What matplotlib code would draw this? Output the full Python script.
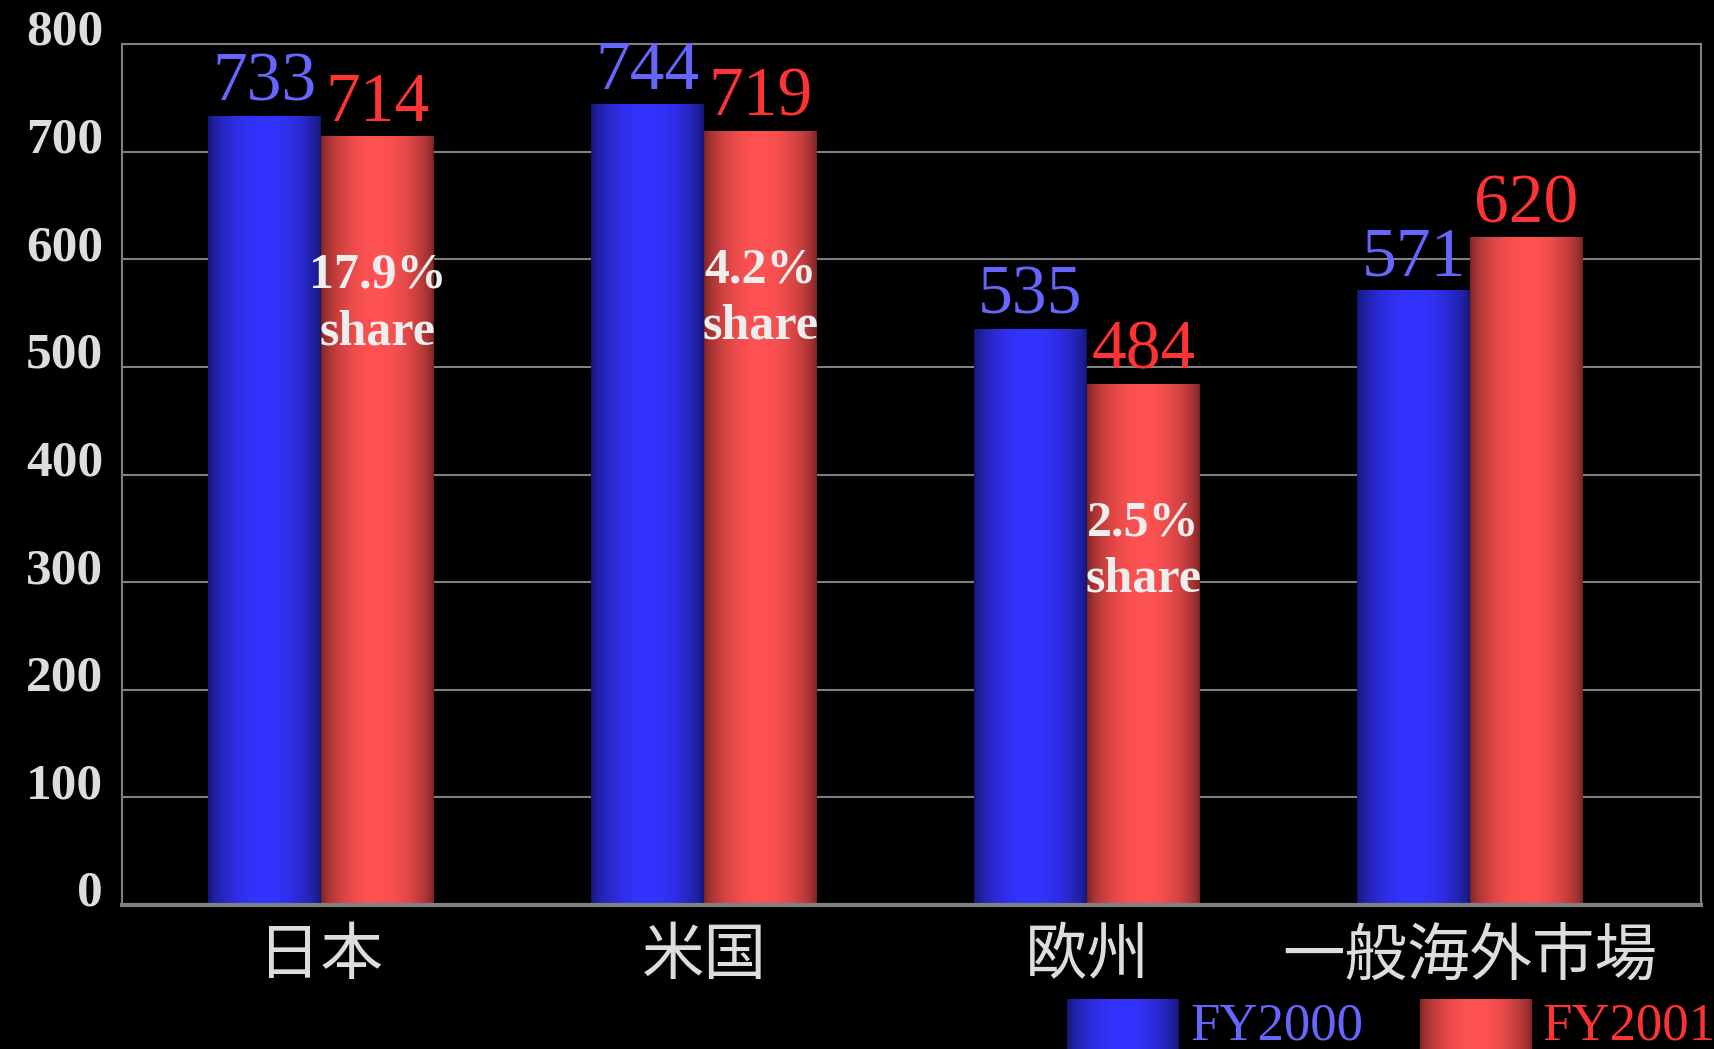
import numpy as np
import matplotlib
matplotlib.use("Agg")
import matplotlib.pyplot as plt

categories = ["日本", "米国", "欧州", "一般海外市場"]
fy2000 = [733, 744, 535, 571]
fy2001 = [714, 719, 484, 620]
share_labels = ["17.9%\nshare", "4.2%\nshare", "2.5%\nshare", ""]
series_names = ["FY2000", "FY2001"]
yticks = list(range(0, 900, 100))

BG = "black"
GRID = "#808080"
TXT = "#dddddd"
BLUE_TXT = "#6666ff"
RED_TXT = "#ff3333"
SERIF = "Liberation Serif"
CJK = ["Noto Sans CJK JP", "DejaVu Sans"]


def gradient(dark, bright):
    t = np.linspace(0, 1, 256)
    w = np.sin(np.pi * t) ** 0.6
    dark = np.array(dark)
    bright = np.array(bright)
    row = dark[None, :] * (1 - w[:, None]) + bright[None, :] * w[:, None]
    return row[None, :, :]


blue_grad = gradient((0.08, 0.08, 0.42), (0.2, 0.2, 1.0))
red_grad = gradient((0.45, 0.13, 0.13), (1.0, 0.32, 0.32))

fig = plt.figure(figsize=(17.15, 10.49), dpi=100, facecolor=BG)
ax = fig.add_axes([0.0714, 0.1373, 0.9204, 0.8207], facecolor=BG)

x = np.arange(len(categories))
w = 0.295
b1 = ax.bar(x - w / 2, fy2000, width=w, color="none", zorder=3)
b2 = ax.bar(x + w / 2, fy2001, width=w, color="none", zorder=3)

for bars, grad in ((b1, blue_grad), (b2, red_grad)):
    for p in bars:
        x0, y0 = p.get_x(), p.get_y()
        ax.imshow(grad, extent=(x0, x0 + p.get_width(), y0, y0 + p.get_height()),
                  aspect="auto", zorder=3, interpolation="bilinear")

# value labels
for bars, vals, col in ((b1, fy2000, BLUE_TXT), (b2, fy2001, RED_TXT)):
    for p, v in zip(bars, vals):
        ax.annotate(str(v), (p.get_x() + p.get_width() / 2, v), xytext=(0, 11),
                    textcoords="offset points", ha="center", va="baseline",
                    fontsize=50, color=col, family=SERIF, zorder=5)

# share notes inside the red bars
for p, v, s in zip(b2, fy2001, share_labels):
    if s:
        ax.text(p.get_x() + p.get_width() / 2, v - 108, s, ha="center", va="top",
                fontsize=36, fontweight="bold", color="#eeeeee", family=SERIF,
                linespacing=1.3, zorder=5)

ax.set_xlim(-0.518, 3.603)
ax.set_ylim(0, 800)
ax.set_yticks(yticks)
ax.set_yticklabels([])
# y labels sit a little above their grid lines
for t in yticks:
    ax.annotate(str(t), (0, t), xycoords=ax.get_yaxis_transform(), xytext=(-14, 8),
                textcoords="offset points", ha="right", va="center",
                fontsize=37, fontweight="bold", color=TXT, family=SERIF)
ax.set_xticks(x)
ax.set_xticklabels(categories, fontsize=45, color=TXT, family=CJK)
ax.tick_params(axis="both", length=0)
ax.tick_params(axis="x", pad=14)

ax.yaxis.grid(True, color=GRID, linewidth=1.5, zorder=1)
ax.set_axisbelow(True)
for side in ("left", "top", "right"):
    ax.spines[side].set_color(GRID)
    ax.spines[side].set_linewidth(1.5)
ax.spines["bottom"].set_color(GRID)
ax.spines["bottom"].set_linewidth(3)
ax.spines["bottom"].set_zorder(4)

# legend at the bottom right
legend_items = [(blue_grad, BLUE_TXT, 1067, 1190), (red_grad, RED_TXT, 1420, 1542)]
for (grad, col, sx, tx), name in zip(legend_items, series_names):
    sw = fig.add_axes([sx / 1715, 0, 112 / 1715, 50 / 1049])
    sw.imshow(grad, aspect="auto", interpolation="bilinear")
    sw.axis("off")
    fig.text(tx / 1715, 10 / 1049, name, fontsize=38, color=col, family=SERIF,
             ha="left", va="baseline")

fig.savefig("out.png", dpi=100, facecolor=BG)
